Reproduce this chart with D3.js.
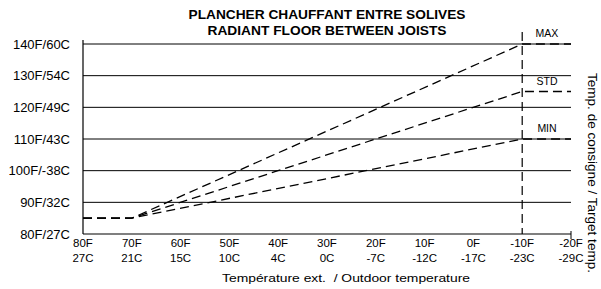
<!DOCTYPE html>
<html>
<head>
<meta charset="utf-8">
<script src="https://cdn.jsdelivr.net/npm/d3@7"></script>
<style>
    body { margin: 0; background: #fff; }
    text { font-family: "Liberation Sans", Arial, sans-serif; fill: #000; white-space: pre; }
</style>
</head>
<body>
<svg id="chart" width="601" height="289"></svg>
<script>
// outdoor temperature ticks (F) and their C equivalents
var xTicksF = [80, 70, 60, 50, 40, 30, 20, 10, 0, -10, -20];
var xTicksC = ["27C", "21C", "15C", "10C", "4C", "0C", "-7C", "-12C", "-17C", "-23C", "-29C"];

// target temperature ticks
var yTicks = [80, 90, 100, 110, 120, 130, 140];
var yLabels = ["80F/27C", "90F/32C", "100F/-38C", "110F/43C", "120F/49C", "130F/54C", "140F/60C"];

// reset curves: same start, different design temps
var curveNames = ["MAX", "STD", "MIN"];
var designTemps = [140, 125, 110];
var startPoint = [70, 85];   // [outdoor F, water F]
var minOutdoor = 80;
var designOutdoor = -10;
var maxOutdoor = -20;

var svg = d3.select("#chart");

var x = d3.scaleLinear().domain([80, -20]).range([83, 571]);
var y = d3.scaleLinear().domain([80, 140]).range([234, 44]);

// horizontal grid
svg.append("g")
    .selectAll("line")
    .data(yTicks.slice(1))
    .enter().append("line")
    .attr("x1", x(80))
    .attr("x2", x(-20))
    .attr("y1", function(d) { return y(d); })
    .attr("y2", function(d) { return y(d); })
    .attr("stroke", "#000")
    .attr("stroke-width", 1);

// axes lines
svg.append("line")
    .attr("x1", x(80)).attr("x2", x(80))
    .attr("y1", y(140) - 4).attr("y2", y(80))
    .attr("stroke", "#000").attr("stroke-width", 1.2);
svg.append("line")
    .attr("x1", x(80)).attr("x2", x(-20))
    .attr("y1", y(80)).attr("y2", y(80))
    .attr("stroke", "#000").attr("stroke-width", 1.2);
svg.append("line")
    .attr("x1", x(-20)).attr("x2", x(-20))
    .attr("y1", y(80) - 3).attr("y2", y(80) + 5)
    .attr("stroke", "#000").attr("stroke-width", 1);

// y labels
svg.append("g")
    .selectAll("text")
    .data(yTicks)
    .enter().append("text")
    .attr("x", 70)
    .attr("y", function(d) { return y(d) + 4.5; })
    .attr("text-anchor", "end")
    .style("font-size", "13px")
    .text(function(d, i) { return yLabels[i]; });

// x labels, two rows
var xl = svg.append("g");
xl.selectAll("text.f")
    .data(xTicksF)
    .enter().append("text")
    .attr("class", "f")
    .attr("x", function(d) { return x(d); })
    .attr("y", y(80) + 13)
    .attr("text-anchor", "middle")
    .style("font-size", "11.5px")
    .text(function(d) { return d + "F"; });
xl.selectAll("text.c")
    .data(xTicksF)
    .enter().append("text")
    .attr("class", "c")
    .attr("x", function(d) { return x(d); })
    .attr("y", y(80) + 28)
    .attr("text-anchor", "middle")
    .style("font-size", "11.5px")
    .text(function(d, i) { return xTicksC[i]; });

// design temp vertical
svg.append("line")
    .attr("x1", x(designOutdoor)).attr("x2", x(designOutdoor))
    .attr("y1", 32).attr("y2", y(80))
    .attr("stroke", "#000")
    .attr("stroke-width", 1.2)
    .attr("stroke-dasharray", "9,5");

// curves
var line = d3.line()
    .x(function(d) { return x(d[0]); })
    .y(function(d) { return y(d[1]); });

curveNames.forEach(function(name, i) {
    var pts = [[minOutdoor, startPoint[1]], startPoint,
               [designOutdoor, designTemps[i]], [maxOutdoor, designTemps[i]]];
    svg.append("path")
        .attr("d", line(pts))
        .attr("fill", "none")
        .attr("stroke", "#000")
        .attr("stroke-width", 1.3)
        .attr("stroke-dasharray", "9,5");

    svg.append("text")
        .attr("x", 547)
        .attr("y", y(designTemps[i]) - 7)
        .attr("text-anchor", "middle")
        .style("font-size", "10.5px")
        .text(name);
});

// titles
svg.append("text")
    .attr("x", 327).attr("y", 19)
    .attr("text-anchor", "middle")
    .attr("textLength", 277)
    .attr("lengthAdjust", "spacingAndGlyphs")
    .style("font-size", "12px")
    .style("font-weight", "bold")
    .text("PLANCHER CHAUFFANT ENTRE SOLIVES");
svg.append("text")
    .attr("x", 327).attr("y", 35)
    .attr("text-anchor", "middle")
    .attr("textLength", 239)
    .attr("lengthAdjust", "spacingAndGlyphs")
    .style("font-size", "12px")
    .style("font-weight", "bold")
    .text("RADIANT FLOOR BETWEEN JOISTS");

svg.append("text")
    .attr("x", 346).attr("y", 282)
    .attr("text-anchor", "middle")
    .attr("textLength", 248)
    .attr("lengthAdjust", "spacingAndGlyphs")
    .style("font-size", "11.5px")
    .text("Température ext.  / Outdoor temperature");

svg.append("text")
    .attr("transform", "translate(588,173) rotate(90)")
    .attr("text-anchor", "middle")
    .attr("textLength", 200)
    .attr("lengthAdjust", "spacingAndGlyphs")
    .style("font-size", "12px")
    .text("Temp. de consigne / Target temp.");
</script>
</body>
</html>
